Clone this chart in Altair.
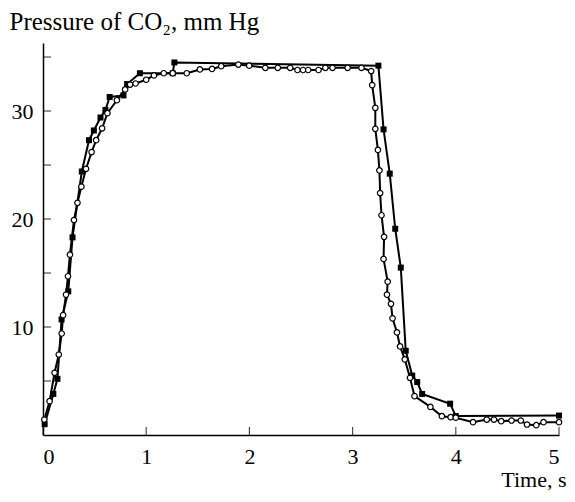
import altair as alt
import pandas as pd

# ---- data ----
filled_time = [0.016, 0.10, 0.14, 0.18, 0.245, 0.286, 0.376, 0.446, 0.493, 0.557, 0.605, 0.646,
               0.78, 0.815, 0.939, 1.257, 1.273, 3.25, 3.30, 3.36, 3.413, 3.467, 3.515, 3.578,
               3.626, 3.674, 3.945, 4.0, 5.0]
filled_pressure = [1.0, 3.8, 5.2, 10.7, 13.3, 18.3, 24.4, 27.3, 28.2, 29.4, 30.1, 31.3,
                   31.45, 32.5, 33.5, 33.5, 34.5, 34.2, 28.3, 24.2, 19.1, 15.5, 7.8, 5.5,
                   4.9, 3.8, 2.9, 1.75, 1.8]

open_time = [0.013, 0.064, 0.112, 0.153, 0.181, 0.195, 0.223, 0.242, 0.261, 0.30, 0.334, 0.372,
             0.417, 0.471, 0.515, 0.573, 0.624, 0.716, 0.796, 0.844, 0.897, 1.00, 1.075, 1.17,
             1.257, 1.393, 1.52, 1.638, 1.727, 1.893, 1.998, 2.154, 2.275, 2.395, 2.466, 2.52,
             2.57, 2.67, 2.736, 2.805, 2.952, 3.086, 3.18, 3.19, 3.22, 3.22, 3.245, 3.26,
             3.267, 3.28, 3.305, 3.30, 3.34, 3.333, 3.372, 3.387, 3.43, 3.46, 3.506, 3.556,
             3.60, 3.754, 3.865, 3.95, 4.0, 4.167, 4.30, 4.37, 4.44, 4.54, 4.63, 4.69,
             4.78, 4.85, 5.0]
open_pressure = [1.43, 3.13, 5.76, 7.45, 9.4, 11.1, 13.0, 14.7, 16.7, 19.9, 21.5, 23.0,
                 24.65, 26.2, 27.3, 28.4, 29.8, 31.0, 32.0, 32.45, 32.55, 32.9, 33.3, 33.5,
                 33.5, 33.5, 33.85, 33.9, 34.15, 34.3, 34.2, 34.0, 34.0, 34.0, 33.8, 33.8,
                 33.8, 33.8, 34.0, 34.0, 34.0, 34.0, 33.7, 32.4, 30.3, 28.35, 26.4, 24.5,
                 22.4, 20.35, 18.35, 16.3, 14.2, 13.0, 12.15, 10.8, 9.5, 8.2, 7.0, 5.3,
                 3.6, 2.6, 1.74, 1.65, 1.6, 1.19, 1.43, 1.43, 1.28, 1.34, 1.34, 0.97,
                 0.91, 1.19, 1.19]

x_tick_values = [0, 1, 2, 3, 4, 5]
y_tick_values = [5, 10, 15, 20, 25, 30, 35]
y_label_values = [10, 20, 30]

W, H = 516, 392
FONT = "Liberation Serif"

filled = pd.DataFrame({"t": filled_time, "p": filled_pressure, "i": list(range(len(filled_time)))})
opened = pd.DataFrame({"t": open_time, "p": open_pressure, "i": list(range(len(open_time)))})
xticks = pd.DataFrame({"t": x_tick_values})
yticks = pd.DataFrame({"p": y_tick_values})

xs = alt.Scale(domain=[0, 5], nice=False, zero=False)
ys = alt.Scale(domain=[0, 36.3], nice=False)

x_axis = alt.Axis(values=x_tick_values, format="d", ticks=False, grid=False,
                  domainColor="black", domainWidth=1.5,
                  labelFont=FONT, labelFontSize=22, labelColor="black", labelPadding=11,
                  title="Time, s", titleFont=FONT, titleFontSize=22, titleFontWeight="normal",
                  titleColor="black", titleAlign="right", titleBaseline="alphabetic",
                  titleX=W + 7, titleY=51)
y_axis = alt.Axis(values=y_label_values, format="d", ticks=False, grid=False,
                  domainColor="black", domainWidth=1.5,
                  labelFont=FONT, labelFontSize=22, labelColor="black", labelPadding=10,
                  title="Pressure of CO₂, mm Hg", titleFont=FONT, titleFontSize=25,
                  titleFontWeight="normal", titleColor="black", titleAngle=0,
                  titleAlign="left", titleBaseline="alphabetic", titleX=-34, titleY=-14)

X = alt.X("t:Q", scale=xs, axis=x_axis)
Y = alt.Y("p:Q", scale=ys, axis=y_axis)

filled_line = alt.Chart(filled).mark_line(color="black", strokeWidth=2).encode(
    x=X, y=Y, order="i:Q")
open_line = alt.Chart(opened).mark_line(color="black", strokeWidth=2).encode(
    x=X, y=Y, order="i:Q")
filled_pts = alt.Chart(filled).mark_point(shape="square", filled=True, size=36,
                                          color="black", opacity=1).encode(x=X, y=Y)
open_pts = alt.Chart(opened).mark_point(shape="circle", filled=True, fill="white",
                                        stroke="black", strokeWidth=1.2, size=30,
                                        opacity=1).encode(x=X, y=Y)

x_tk = alt.Chart(xticks).mark_tick(orient="vertical", size=8, thickness=1.2,
                                   color="black").encode(x=X, y=alt.value(H - 4))
y_tk = alt.Chart(yticks).mark_tick(orient="horizontal", size=8, thickness=1.2,
                                   color="black").encode(y=Y, x=alt.value(4))

chart = alt.layer(filled_line, open_line, filled_pts, open_pts, x_tk, y_tk).properties(
    width=W, height=H, autosize="none",
    padding={"left": 35, "top": 35, "right": 8, "bottom": 57},
    background="white",
).configure_view(stroke=None)

chart.save("out.html", embed_options={"renderer": "svg", "actions": False})
